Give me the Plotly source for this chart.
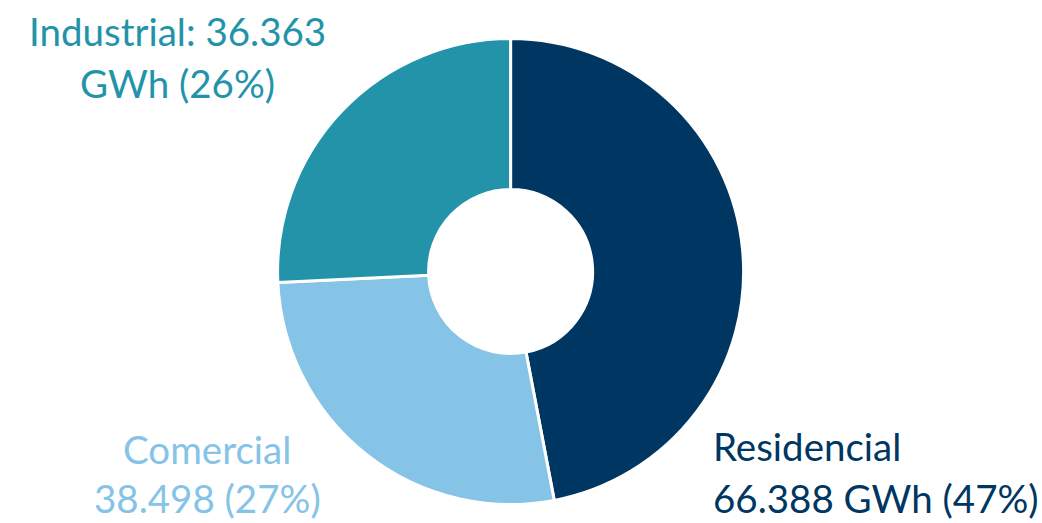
import plotly.graph_objects as go

labels = ["Residencial", "Comercial", "Industrial"]
values = [66.388, 38.498, 36.363]
colors = ["#003662", "#85C3E7", "#2293A8"]

total = sum(values)
pcts = [round(v / total * 100) for v in values]

def fmt(v):
    return f"{v:.3f}"

label_lines = [
    [labels[0], f"{fmt(values[0])} GWh ({pcts[0]}%)"],
    [labels[1], f"{fmt(values[1])} ({pcts[1]}%)"],
    [f"{labels[2]}: {fmt(values[2])}", f"GWh ({pcts[2]}%)"],
]

W, H = 1042, 523

cx, cy, R = 510.6, 271.5, 233

fig = go.Figure(go.Pie(
    labels=labels,
    values=values,
    sort=False,
    direction="clockwise",
    rotation=0,
    hole=0.352,
    marker=dict(colors=colors, line=dict(color="white", width=3)),
    textinfo="none",
    hoverinfo="label+value+percent",
    showlegend=False,
    domain=dict(x=[(cx - R) / W, (cx + R) / W],
                y=[(H - cy - R) / H, (H - cy + R) / H]),
))

# label placement: (x px, baseline y px of each line, anchor)
placements = [
    (712, [462, 514], "left"),
    (207, [465, 514], "center"),
    (177.5, [47, 99], "center"),
]

FS = 38.5
annotations = []
for (x, baselines, anchor), lines, col in zip(placements, label_lines, colors):
    for line, base in zip(lines, baselines):
        annotations.append(dict(
            text=line, x=x / W, y=(H - base) / H,
            xref="paper", yref="paper",
            xanchor=anchor, yanchor="bottom", showarrow=False,
            font=dict(family="Lato", size=FS, color=col),
            borderpad=0, yshift=-0.22 * FS,
        ))

fig.update_layout(
    width=W, height=H,
    margin=dict(l=0, r=0, t=0, b=0),
    paper_bgcolor="white",
    plot_bgcolor="white",
    annotations=annotations,
)

fig.write_html(
    "out.html",
    config={"displayModeBar": False},
    post_script="document.body.style.margin='0';document.body.style.overflow='hidden';",
)
